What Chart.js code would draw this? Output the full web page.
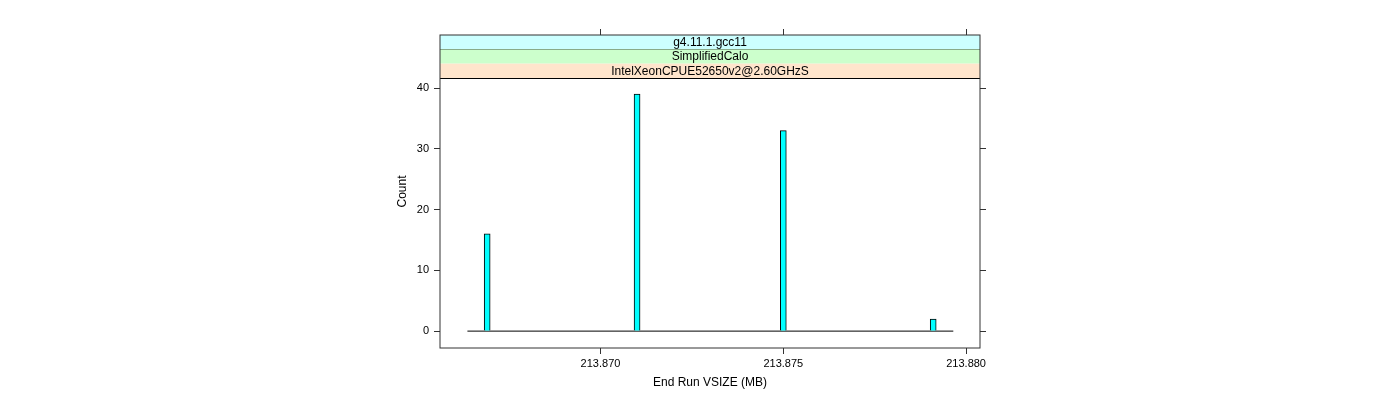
<!DOCTYPE html>
<html>
<head>
<meta charset="utf-8">
<script src="https://cdn.jsdelivr.net/npm/chart.js@4.4.1/dist/chart.umd.min.js"></script>
<style>
  html, body { margin: 0; padding: 0; background: #fff; }
</style>
</head>
<body>
<canvas id="histChart" width="1400" height="400"></canvas>
<script>
// histogram bins (bar centres, MB) and their counts
const binCenters = [213.8669, 213.8710, 213.8750, 213.8791];
const counts = [16, 39, 33, 2];
// empty bins drawn as a flat line along zero
const baselineRange = [213.86636, 213.87965];

const xTickValues = [213.870, 213.875, 213.880];
const yTickValues = [0, 10, 20, 30, 40];

// strip labels, top to bottom
const stripLabels = ['g4.11.1.gcc11', 'SimplifiedCalo', 'IntelXeonCPUE52650v2@2.60GHzS'];
const stripColors = ['#CCFFFF', '#CCFFCC', '#FFE5CC'];

const FONT = "'Liberation Sans', Arial, Helvetica, sans-serif";
const X_MIN = 213.86561, X_MAX = 213.88038;
const Y_MIN = -2.78, Y_MAX = 48.74;

const setTicks = values => scale => {
    scale.ticks = values.map(v => ({ value: v }));
};

// draws the lattice strips and the panel box
const panelPlugin = {
    id: 'panel',
    afterDraw(chart) {
        const { ctx, chartArea: a } = chart;
        const stripH = 43 / stripLabels.length;
        ctx.save();
        stripLabels.forEach((label, i) => {
            const top = a.top + i * stripH;
            ctx.fillStyle = stripColors[i];
            ctx.fillRect(a.left, top, a.right - a.left, stripH);
            ctx.strokeStyle = '#000';
            ctx.lineWidth = 1;
            ctx.beginPath();
            ctx.moveTo(a.left, Math.round(top + stripH) + 0.5);
            ctx.lineTo(a.right, Math.round(top + stripH) + 0.5);
            ctx.stroke();
            ctx.fillStyle = '#000';
            ctx.font = '12px ' + FONT;
            ctx.textAlign = 'center';
            ctx.textBaseline = 'middle';
            ctx.fillText(label, (a.left + a.right) / 2, top + stripH / 2 + 0.5);
        });
        ctx.strokeStyle = '#333';
        ctx.lineWidth = 1;
        ctx.strokeRect(a.left, a.top, a.right - a.left, a.bottom - a.top);
        ctx.restore();
    }
};

const tickGrid = {
    drawOnChartArea: false,
    drawTicks: true,
    tickLength: 6,
    tickColor: '#333',
    offset: false
};

new Chart(document.getElementById('histChart').getContext('2d'), {
    type: 'bar',
    data: {
        datasets: [
            {
                type: 'bar',
                data: binCenters.map((x, i) => ({ x: x, y: counts[i] })),
                backgroundColor: '#00FFFF',
                borderColor: '#000',
                borderWidth: 1,
                barThickness: 6,
                order: 1
            },
            {
                type: 'line',
                data: baselineRange.map(x => ({ x: x, y: 0 })),
                borderColor: '#000',
                borderWidth: 1,
                pointRadius: 0,
                order: 2
            }
        ]
    },
    options: {
        responsive: false,
        animation: false,
        events: [],
        layout: { padding: { left: 390, right: 414, top: 29, bottom: 0 } },
        plugins: { legend: { display: false }, tooltip: { enabled: false } },
        scales: {
            x: {
                type: 'linear',
                position: 'bottom',
                min: X_MIN, max: X_MAX,
                offset: false,
                grid: tickGrid,
                border: { display: false },
                afterBuildTicks: setTicks(xTickValues),
                afterFit: s => { s.height = 52; },
                ticks: {
                    color: '#000',
                    font: { family: FONT, size: 11 },
                    padding: 3,
                    maxRotation: 0,
                    autoSkip: false,
                    callback: v => v.toFixed(3)
                },
                title: {
                    display: true,
                    text: 'End Run VSIZE (MB)',
                    color: '#000',
                    font: { family: FONT, size: 12 },
                    padding: { top: 0, bottom: 10 }
                }
            },
            x2: {
                type: 'linear',
                position: 'top',
                min: X_MIN, max: X_MAX,
                offset: false,
                grid: tickGrid,
                border: { display: false },
                afterBuildTicks: setTicks(xTickValues),
                afterFit: s => { s.height = 6; },
                ticks: { display: false }
            },
            y: {
                type: 'linear',
                position: 'left',
                min: Y_MIN, max: Y_MAX,
                grid: tickGrid,
                border: { display: false },
                afterBuildTicks: setTicks(yTickValues),
                afterFit: s => { s.width = 50; },
                ticks: {
                    color: '#000',
                    font: { family: FONT, size: 11 },
                    padding: 5
                },
                title: {
                    display: true,
                    text: 'Count',
                    color: '#000',
                    font: { family: FONT, size: 12 },
                    padding: { top: 5, bottom: 0 }
                }
            },
            y2: {
                type: 'linear',
                position: 'right',
                min: Y_MIN, max: Y_MAX,
                grid: tickGrid,
                border: { display: false },
                afterBuildTicks: setTicks(yTickValues),
                afterFit: s => { s.width = 6; },
                ticks: { display: false }
            }
        }
    },
    plugins: [panelPlugin]
});
</script>
</body>
</html>
